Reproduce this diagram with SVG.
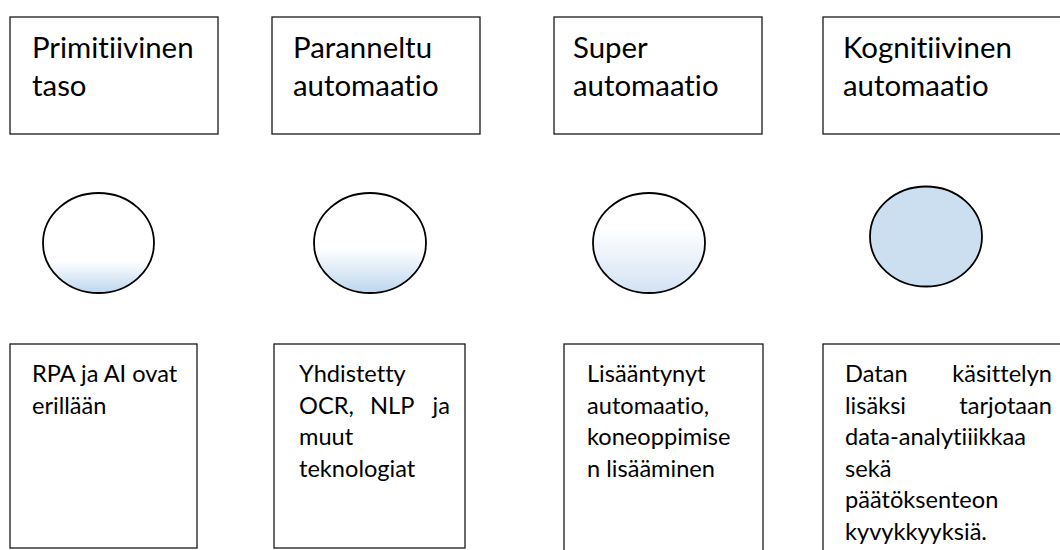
<svg xmlns="http://www.w3.org/2000/svg" width="1060" height="550" viewBox="0 0 1060 550">
<defs>
<style>
.box{fill:#fff;stroke:#1a1a1a;stroke-width:1.3}
.ell{stroke:#000;stroke-width:1.8}
.t{font-family:Lato,"Liberation Sans",sans-serif;fill:#000;font-variant-ligatures:none;font-feature-settings:"liga" 0,"clig" 0}
.big{font-size:29.4px}
.sm{font-size:23.6px}
</style>
<linearGradient id="g1" x1="0" y1="0" x2="0" y2="1">
<stop offset="0" stop-color="#fff"/><stop offset="0.68" stop-color="#fff"/><stop offset="1" stop-color="#BDD6EE"/>
</linearGradient>
<linearGradient id="g2" x1="0" y1="0" x2="0" y2="1">
<stop offset="0" stop-color="#fff"/><stop offset="0.55" stop-color="#fff"/><stop offset="1" stop-color="#BDD6EE"/>
</linearGradient>
<linearGradient id="g3" x1="0" y1="0" x2="0" y2="1">
<stop offset="0" stop-color="#fff"/><stop offset="0.35" stop-color="#fff"/><stop offset="1" stop-color="#D2E2F3"/>
</linearGradient>
</defs>
<rect width="1060" height="550" fill="#fff"/>
<g id="connectors"/>
<g id="top1"><rect class="box" x="10" y="17" width="208" height="117"/><text class="t big"><tspan x="32" y="58">Primitiivinen</tspan><tspan x="32" y="96">taso</tspan></text></g>
<g id="top2"><rect class="box" x="272" y="17" width="208" height="117"/><text class="t big"><tspan x="293" y="58">Paranneltu</tspan><tspan x="293" y="96">automaatio</tspan></text></g>
<g id="top3"><rect class="box" x="554" y="17" width="208" height="117"/><text class="t big"><tspan x="573" y="58">Super</tspan><tspan x="573" y="96">automaatio</tspan></text></g>
<g id="top4"><rect class="box" x="823" y="17" width="260" height="117"/><text class="t big"><tspan x="843" y="58">Kognitiivinen</tspan><tspan x="843" y="96">automaatio</tspan></text></g>
<g id="circle1"><ellipse class="ell" cx="98.5" cy="243" rx="55.5" ry="50" fill="url(#g1)"/></g>
<g id="circle2"><ellipse class="ell" cx="370" cy="243" rx="56" ry="50" fill="url(#g2)"/></g>
<g id="circle3"><ellipse class="ell" cx="649" cy="243" rx="56" ry="50" fill="url(#g3)"/></g>
<g id="circle4"><ellipse class="ell" cx="926" cy="236.5" rx="56" ry="50" fill="#CCDFF0"/></g>
<g id="bottom1"><rect class="box" x="10" y="344" width="187" height="204"/><text class="t sm"><tspan x="32" y="382">RPA ja AI ovat</tspan><tspan x="32" y="413.5">erillään</tspan></text></g>
<g id="bottom2"><rect class="box" x="274" y="344" width="191" height="204"/><text class="t sm"><tspan x="299" y="382">Yhdistetty</tspan><tspan x="299" y="413.5">OCR,</tspan><tspan x="370" y="413.5">NLP</tspan><tspan x="450" y="413.5" text-anchor="end">ja</tspan><tspan x="299" y="445">muut</tspan><tspan x="299" y="476.5">teknologiat</tspan></text></g>
<g id="bottom3"><rect class="box" x="564" y="344" width="199" height="230"/><text class="t sm"><tspan x="587" y="382">Lisääntynyt</tspan><tspan x="587" y="413.5">automaatio,</tspan><tspan x="587" y="445">koneoppimise</tspan><tspan x="587" y="476.5">n lisääminen</tspan></text></g>
<g id="bottom4"><rect class="box" x="823" y="344" width="260" height="230"/><text class="t sm"><tspan x="845" y="382">Datan</tspan><tspan x="1052" y="382" text-anchor="end">käsittelyn</tspan><tspan x="845" y="413.5">lisäksi</tspan><tspan x="1052" y="413.5" text-anchor="end">tarjotaan</tspan><tspan x="845" y="445">data-analytiiikkaa</tspan><tspan x="845" y="476.5">sekä</tspan><tspan x="845" y="508">päätöksenteon</tspan><tspan x="845" y="539.5">kyvykkyyksiä.</tspan></text></g>
</svg>
